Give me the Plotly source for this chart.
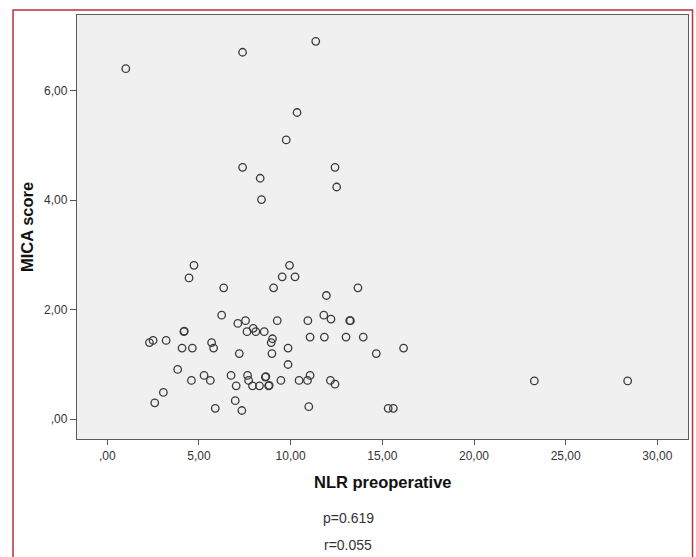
import plotly.graph_objects as go

nlr_preoperative = [1.01, 7.38, 11.37, 10.35, 9.76, 7.38, 8.34, 12.42, 12.51, 8.41,
                    4.73, 9.94, 4.46, 9.54, 10.24, 6.35, 9.07, 11.95, 13.67, 6.24,
                    7.12, 7.54, 9.27, 10.94, 11.81, 12.20, 13.22, 13.26, 4.18, 4.20,
                    7.96, 7.62, 8.10, 8.56, 9.01, 8.94, 11.06, 11.84, 13.02, 13.96,
                    2.30, 2.50, 3.21, 4.08, 4.64, 5.69, 5.80, 9.86, 7.20, 8.98,
                    14.67, 9.86, 3.84, 4.59, 5.28, 5.62, 6.75, 7.65, 7.71, 7.03,
                    7.92, 8.30, 8.62, 8.65, 8.80, 8.83, 9.47, 10.46, 10.92, 11.06,
                    12.17, 12.42, 3.06, 2.59, 6.98, 5.89, 7.34, 10.99, 16.16, 15.32,
                    15.60, 23.29, 28.38]
mica_score = [6.40, 6.70, 6.90, 5.60, 5.10, 4.60, 4.40, 4.60, 4.24, 4.01,
              2.81, 2.81, 2.58, 2.60, 2.60, 2.40, 2.40, 2.26, 2.40, 1.90,
              1.75, 1.80, 1.80, 1.80, 1.90, 1.83, 1.80, 1.80, 1.60, 1.61,
              1.66, 1.60, 1.60, 1.60, 1.47, 1.40, 1.50, 1.50, 1.50, 1.50,
              1.40, 1.44, 1.44, 1.30, 1.30, 1.40, 1.30, 1.30, 1.20, 1.20,
              1.20, 1.00, 0.91, 0.71, 0.80, 0.71, 0.80, 0.80, 0.71, 0.61,
              0.61, 0.61, 0.77, 0.78, 0.61, 0.62, 0.71, 0.71, 0.71, 0.80,
              0.71, 0.64, 0.49, 0.30, 0.34, 0.20, 0.16, 0.23, 1.30, 0.20,
              0.20, 0.70, 0.70]

x_tickvals = [0, 5, 10, 15, 20, 25, 30]
x_ticktext = [",00", "5,00", "10,00", "15,00", "20,00", "25,00", "30,00"]
y_tickvals = [0, 2, 4, 6]
y_ticktext = [",00", "2,00", "4,00", "6,00"]

FONT = "Arial, Liberation Sans, sans-serif"

fig = go.Figure()
fig.add_trace(go.Scatter(
    x=nlr_preoperative, y=mica_score, mode="markers",
    marker=dict(symbol="circle-open", size=7.5, color="#3a3a3a",
                line=dict(width=1.3, color="#3a3a3a")),
    showlegend=False, hoverinfo="x+y"))

fig.update_layout(
    width=696, height=557,
    margin=dict(l=77, r=8, t=15, b=118),
    paper_bgcolor="white", plot_bgcolor="#f0f0f0",
    font=dict(family=FONT, size=12, color="#333333"),
    xaxis=dict(range=[-1.65, 31.67], tickvals=x_tickvals, ticktext=x_ticktext,
               showgrid=False, zeroline=False, ticks="outside", ticklen=5,
               tickcolor="#555555", showline=True, linecolor="#5a5a5a",
               linewidth=1.3, mirror=True, tickfont=dict(size=12, color="#333333")),
    yaxis=dict(range=[-0.36, 7.38], tickvals=y_tickvals, ticktext=y_ticktext,
               showgrid=False, zeroline=False, ticks="outside", ticklen=6,
               tickcolor="#555555", showline=True, linecolor="#5a5a5a",
               linewidth=1.3, mirror=True, tickfont=dict(size=12, color="#333333")),
    shapes=[dict(type="rect", xref="paper", yref="paper",
                 x0=-0.1047, x1=1.0074, y0=-0.6, y1=1.0118,
                 line=dict(color="#b8323c", width=1.5), fillcolor="rgba(0,0,0,0)",
                 layer="below")],
    annotations=[
        dict(text="<b>NLR preoperative</b>", xref="paper", yref="paper",
             x=(382.5 - 77) / 611, y=-(481.7 - 439) / 424, showarrow=False,
             font=dict(size=16.5, color="#111111"), xanchor="center", yanchor="middle"),
        dict(text="<b>MICA score</b>", xref="paper", yref="paper",
             x=-(77 - 27) / 611, y=(439 - 227) / 424, showarrow=False, textangle=-90,
             font=dict(size=16.5, color="#111111"), xanchor="center", yanchor="middle"),
        dict(text="p=0.619", xref="paper", yref="paper",
             x=(348 - 77) / 611, y=-(518 - 439) / 424, showarrow=False,
             font=dict(size=14, color="#333333"), xanchor="center", yanchor="middle"),
        dict(text="r=0.055", xref="paper", yref="paper",
             x=(348 - 77) / 611, y=-(545 - 439) / 424, showarrow=False,
             font=dict(size=14, color="#333333"), xanchor="center", yanchor="middle"),
    ],
)

fig.write_html("out.html", config={"displayModeBar": False},
               post_script="document.body.style.margin='0';"
                           "document.body.style.overflow='hidden';")
